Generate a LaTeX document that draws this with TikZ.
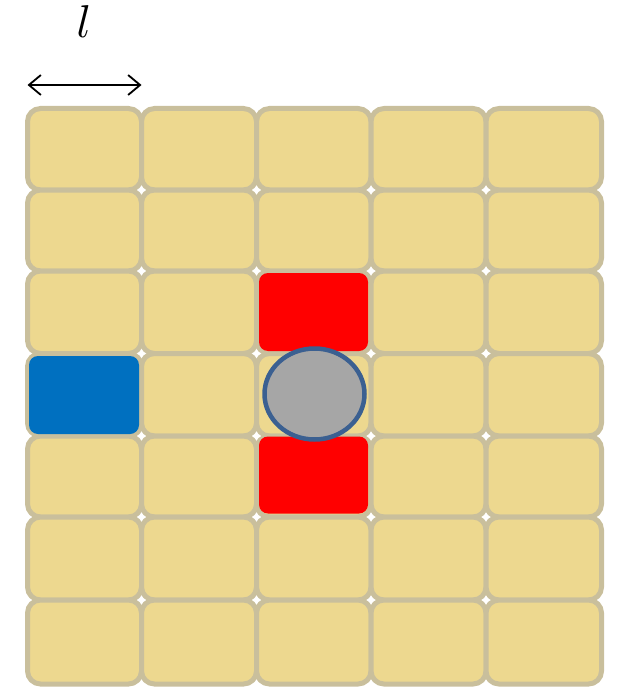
\documentclass[tikz,border=0pt]{standalone}
\usetikzlibrary{shapes.geometric,arrows.meta}
\definecolor{cellfill}{HTML}{EDD88F}
\definecolor{celldraw}{HTML}{C9BF9C}
\definecolor{hotred}{HTML}{FF0000}
\definecolor{agentblue}{HTML}{0070C0}
\definecolor{ballgray}{HTML}{A6A6A6}
\definecolor{balledge}{HTML}{3B6091}
\tikzset{
  cellbox/.style={draw=celldraw, fill=cellfill, line width=5pt, rounded corners=13pt, inner sep=0pt, outer sep=0pt},
  markbox/.style={rounded corners=9pt, inner sep=0pt, outer sep=0pt},
  ballnode/.style={ellipse, draw=balledge, fill=ballgray, line width=4.5pt, inner sep=0pt, minimum width=100pt, minimum height=91pt},
  dimarrow/.style={line width=1.8pt, {Straight Barb[length=12pt,width=20pt]}-{Straight Barb[length=12pt,width=20pt]}}
}
\begin{document}
\begin{tikzpicture}[x=1pt,y=-1pt]
\useasboundingbox (0,0) rectangle (618,687);
\foreach \col/\xl/\xr in {0/27.5/141.5,1/141.5/256.5,2/256.5/371,3/371/486,4/486/601.5}{
  \foreach \row/\yt/\yb in {0/108.5/190,1/190/271,2/271/353.5,3/353.5/436,4/436/517,5/517/600,6/600/684}{
    \pgfmathsetmacro{\cx}{(\xl+\xr)/2}
    \pgfmathsetmacro{\cy}{(\yt+\yb)/2}
    \pgfmathsetmacro{\cw}{\xr-\xl}
    \pgfmathsetmacro{\ch}{\yb-\yt}
    \node[cellbox, minimum width=\cw pt, minimum height=\ch pt] (c-\col-\row) at (\cx,\cy) {};
  }
}
\node[markbox, fill=hotred, minimum width=109pt, minimum height=78pt] (red1) at (313.5,312) {};
\node[markbox, fill=hotred, minimum width=109pt, minimum height=77pt] (red2) at (313.5,475) {};
\node[markbox, fill=agentblue, minimum width=110pt, minimum height=78pt] (blue) at (84,395) {};
\node[ballnode] (ball) at (314.5,394) {};
\coordinate (al) at (27.5,85);
\coordinate (ar) at (141.5,85);
\draw[dimarrow] (al) -- (ar);
\node[scale=4.6, inner sep=0pt] (lab) at (84,22) {$l$};
\end{tikzpicture}
\end{document}
